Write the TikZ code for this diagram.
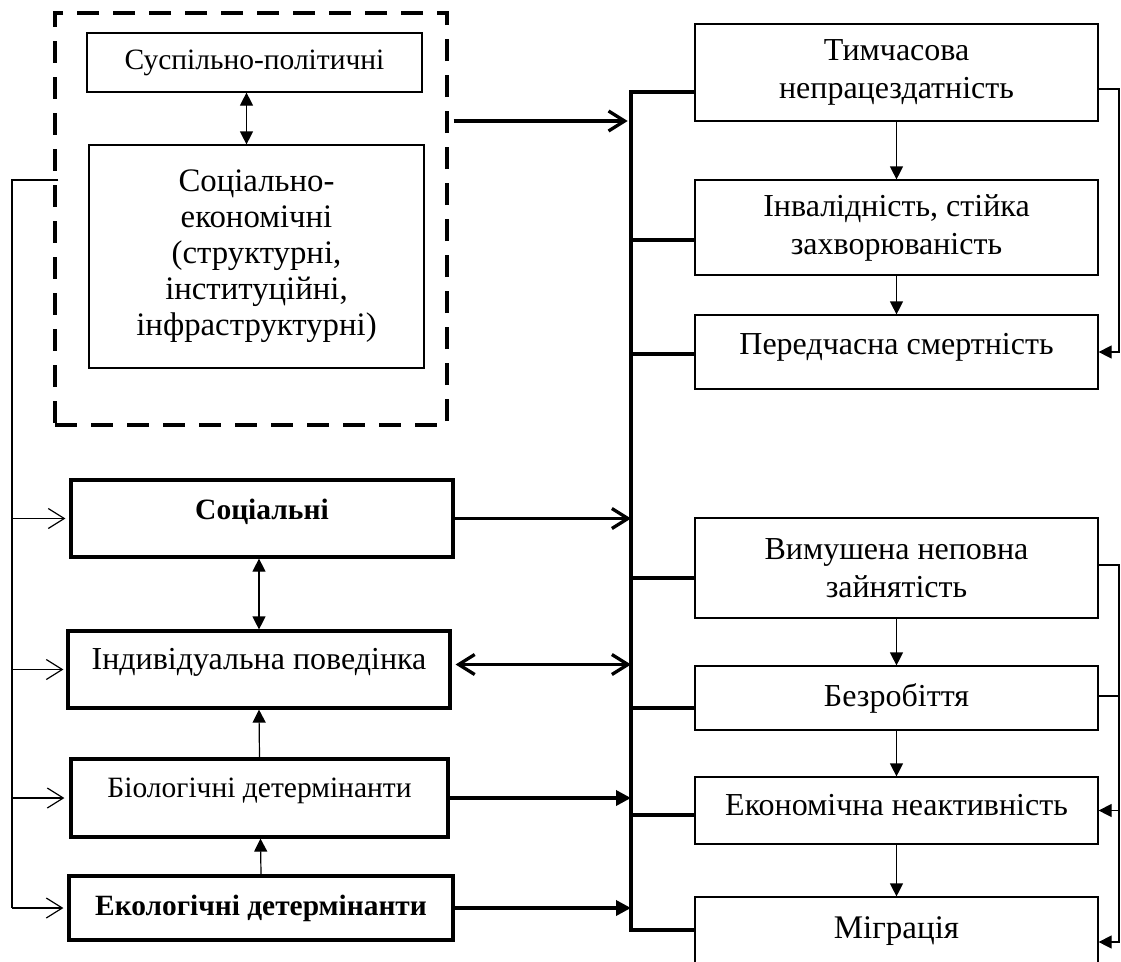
\documentclass[tikz,border=0pt]{standalone}
\usepackage{fontspec}
\setmainfont{Liberation Serif}
\usetikzlibrary{arrows.meta,positioning}

\begin{document}
\begin{tikzpicture}[
  x=1pt,y=-1pt,
  block/.style={draw,line width=1.2pt,align=center,inner sep=2pt},
  rbox/.style={block,minimum width=403pt,font=\fontsize{32}{38}\selectfont},
  lbox/.style={block,line width=3.2pt},
  lift/.style={text depth=#1},
  group/.style={draw,line width=3.3pt,dash pattern=on 22pt off 14pt},
  bus/.style={line width=4pt},
  thinline/.style={line width=1.2pt},
  arr/.style={thinline,-{Triangle[length=13pt,width=13pt]}},
  dblarr/.style={thinline,{Triangle[length=13pt,width=13pt]}-{Triangle[length=13pt,width=13pt]}},
  openarr/.style={thinline,-{Straight Barb[length=16pt,width=20pt]}},
  busarr/.style={line width=3.3pt,-{Straight Barb[length=16pt,width=20pt]}},
  busdbl/.style={line width=3.3pt,{Straight Barb[length=16pt,width=20pt]}-{Straight Barb[length=16pt,width=20pt]}},
  busfill/.style={line width=3.5pt,-{Triangle[length=15pt,width=15pt]}}
]
  \useasboundingbox (0,0) rectangle (1121,961);
  \clip (0,0) rectangle (1121,961);

  % left column
  \node[group,minimum width=392pt,minimum height=412pt] (grp) at (251,219) {};
  \node[block,minimum width=335pt,minimum height=59pt,font=\fontsize{29.5}{34}\selectfont] (susp) at (254.5,62.5) {Суспільно-політичні};
  \node[block,minimum width=335pt,minimum height=223pt,font=\fontsize{32.8}{36}\selectfont] (soceco) at (256.5,256.5) {Соціально-\\економічні\\(структурні,\\інституційні,\\інфраструктурні)};

  \node[lbox,lift=19pt,minimum width=382pt,minimum height=77pt,font=\fontsize{29.5}{34}\selectfont\bfseries] (soc) at (262,518.5) {Соціальні};
  \node[lbox,lift=22pt,minimum width=382pt,minimum height=77pt,font=\fontsize{32}{38}\selectfont] (indiv) at (259,669.5) {Індивідуальна поведінка};
  \node[lbox,lift=20pt,minimum width=377pt,minimum height=78pt,font=\fontsize{29.5}{34}\selectfont] (bio) at (259.5,798) {Біологічні детермінанти};
  \node[lbox,minimum width=384pt,minimum height=64pt,font=\fontsize{29.4}{34}\selectfont\bfseries] (eco) at (261,908) {Екологічні детермінанти};

  % right column
  \node[rbox,minimum height=97pt] (tymch) at (896.5,72.5) {Тимчасова\\непрацездатність};
  \node[rbox,minimum height=95pt] (invalid) at (896.5,227.5) {Інвалідність, стійка\\захворюваність};
  \node[rbox,lift=16pt,minimum height=74pt] (peredch) at (896.5,352) {Передчасна смертність};
  \node[rbox,minimum height=100pt] (vymush) at (896.5,568) {Вимушена неповна\\зайнятість};
  \node[rbox,minimum height=64pt] (bezrob) at (896.5,698) {Безробіття};
  \node[rbox,lift=12pt,minimum height=67pt] (econ) at (896.5,810.5) {Економічна неактивність};
  \node[rbox,minimum height=68pt,font=\fontsize{33}{38}\selectfont] (migr) at (896.5,931) {Міграція};

  \coordinate (bustop) at (631,92);
  \coordinate (busbot) at (631,930);
  \coordinate (fb) at (12,180);
  \coordinate (rfb) at (1119,0);
  \coordinate (migrin) at ([yshift=-11pt]migr.east);

  % links inside the left column
  \draw[dblarr] ([xshift=-8pt]susp.south) -- ([xshift=-10pt]soceco.north);
  \draw[dblarr] ([xshift=-3pt]soc.south) -- (indiv.north);
  \draw[arr] (bio.north) -- (indiv.south);
  \draw[arr] (eco.north) -- ([xshift=1pt]bio.south);

  % feedback on the left
  \draw[thinline] ([xshift=5pt]grp.west |- fb) -- (fb) -- (fb |- eco.west);
  \draw[openarr] (fb |- soc.west) -- ([xshift=-4pt]soc.west);
  \draw[openarr] (fb |- indiv.west) -- ([xshift=-3pt]indiv.west);
  \draw[openarr] (fb |- bio.west) -- ([xshift=-5pt]bio.west);
  \draw[openarr] (fb |- eco.west) -- ([xshift=-4pt]eco.west);

  % bus
  \draw[bus] (tymch.west |- bustop) -- (bustop) -- (busbot) -- (migr.west |- busbot);
  \draw[bus] ([yshift=-12.5pt]invalid.west) -- ++(-65,0);
  \draw[bus] ([yshift=-2pt]peredch.west) -- ++(-65,0);
  \draw[bus] ([yshift=-10pt]vymush.west) -- ++(-65,0);
  \draw[bus] ([yshift=-10pt]bezrob.west) -- ++(-65,0);
  \draw[bus] ([yshift=-4.5pt]econ.west) -- ++(-65,0);

  \draw[busarr] ([xshift=5pt,yshift=98pt]grp.east) -- ++(174,0);
  \draw[busarr] (soc.east) -- (soc.east -| bustop);
  \draw[busdbl] ([xshift=4pt,yshift=5pt]indiv.east) -- ([yshift=5pt]indiv.east -| bustop);
  \draw[busfill] (bio.east) -- (bio.east -| bustop);
  \draw[busfill] (eco.east) -- (eco.east -| bustop);

  % right column chains
  \draw[arr] (tymch) -- (invalid);
  \draw[arr] (invalid) -- (peredch);
  \draw[arr] (vymush) -- (bezrob);
  \draw[arr] (bezrob) -- (econ);
  \draw[arr] (econ) -- (migr);

  % feedback on the right
  \draw[arr] ([yshift=-16.5pt]tymch.east) -| (rfb |- peredch.east) -- (peredch.east);
  \draw[arr] ([yshift=3pt]vymush.east) -| (rfb |- migrin) -- (migrin);
  \draw[thinline] ([yshift=2pt]bezrob.east) -- ([yshift=2pt]bezrob.east -| rfb);
  \draw[arr] (econ.east -| rfb) -- (econ.east);
\end{tikzpicture}
\end{document}
